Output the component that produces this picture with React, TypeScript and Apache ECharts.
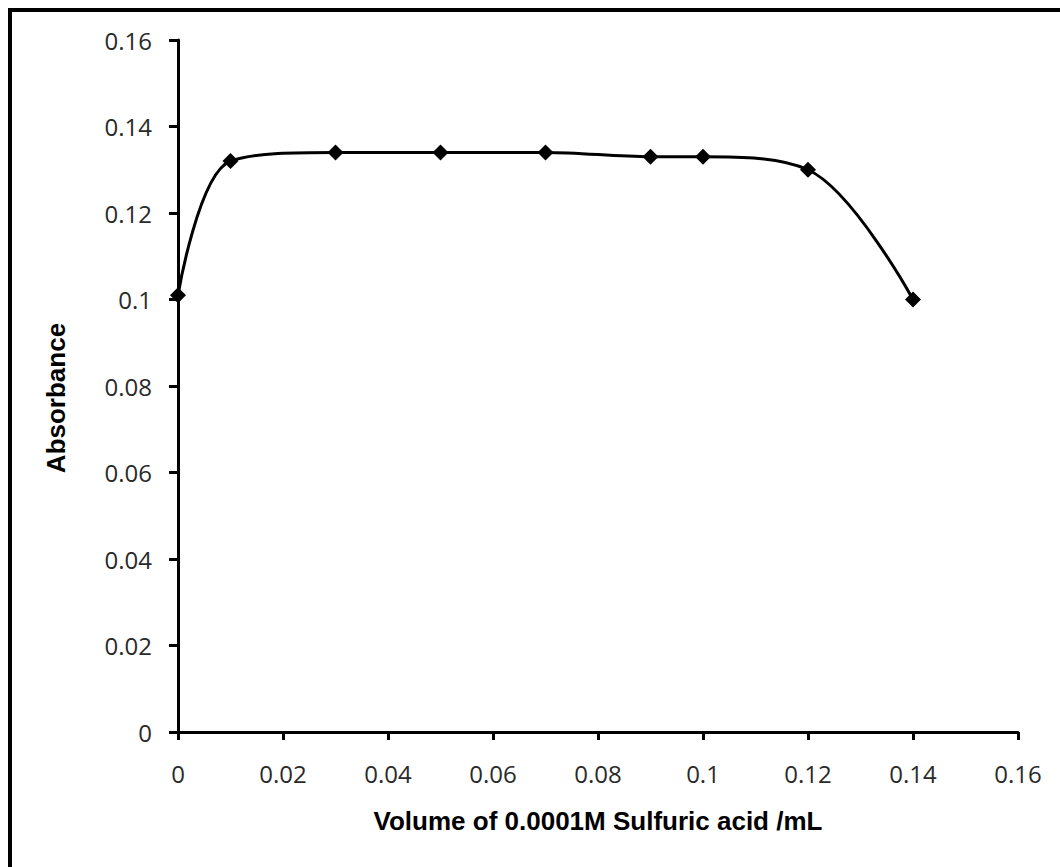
import React, { useEffect, useRef } from "react";
import * as echarts from "echarts";

const volumes = [0, 0.01, 0.03, 0.05, 0.07, 0.09, 0.1, 0.12, 0.14];
const absorbance = [0.101, 0.132, 0.134, 0.134, 0.134, 0.133, 0.133, 0.13, 0.1];
const xTitle = "Volume of 0.0001M Sulfuric acid /mL";
const yTitle = "Absorbance";

export default function App() {
  const ref = useRef<HTMLDivElement>(null);
  useEffect(() => {
    const chart = echarts.init(ref.current!, null, { renderer: "svg" });
    const tickFont = { fontFamily: "Open Sans", fontSize: 24, color: "#2a2a2a" };
    chart.setOption({
      animation: false,
      backgroundColor: "#ffffff",
      grid: { left: 178, right: 42, top: 40, bottom: 135 },
      xAxis: {
        type: "value",
        min: 0,
        max: 0.16,
        interval: 0.02,
        name: xTitle,
        nameLocation: "middle",
        nameGap: 76,
        nameTextStyle: { fontFamily: "Liberation Sans", fontWeight: "bold", fontSize: 26, color: "#000" },
        axisLine: { show: true, lineStyle: { color: "#000", width: 3 } },
        axisTick: { show: true, inside: false, length: 8, lineStyle: { color: "#000", width: 3 } },
        axisLabel: { ...tickFont, margin: 29, formatter: (v: number) => String(+v.toFixed(2)) },
        splitLine: { show: false },
      },
      yAxis: {
        type: "value",
        min: 0,
        max: 0.16,
        interval: 0.02,
        name: yTitle,
        nameLocation: "middle",
        nameGap: 109,
        nameRotate: 90,
        nameTextStyle: { fontFamily: "Liberation Sans", fontWeight: "bold", fontSize: 26, color: "#000", padding: [0, 0, 0, -24] },
        axisLine: { show: true, lineStyle: { color: "#000", width: 3 } },
        axisTick: { show: true, inside: false, length: 9, lineStyle: { color: "#000", width: 3 } },
        axisLabel: { ...tickFont, margin: 26, formatter: (v: number) => String(+v.toFixed(2)) },
        splitLine: { show: false },
      },
      series: [
        {
          type: "line",
          data: volumes.map((x, i) => [x, absorbance[i]]),
          smooth: 0.35,
          symbol: "diamond",
          symbolSize: 16,
          itemStyle: { color: "#000" },
          lineStyle: { color: "#000", width: 3 },
        },
      ],
      graphic: [
        {
          type: "rect",
          shape: { x: 10, y: 10, width: 1200, height: 1000 },
          style: { fill: "none", stroke: "#000", lineWidth: 4 },
          silent: true,
        },
      ],
    });
    return () => chart.dispose();
  }, []);
  return (
    <div
      ref={ref}
      style={{ position: "fixed", left: 0, top: 0, width: 1060, height: 867, background: "#fff" }}
    />
  );
}
